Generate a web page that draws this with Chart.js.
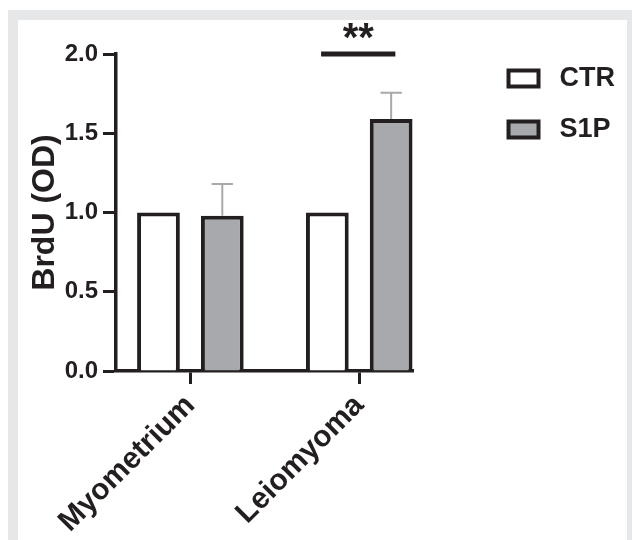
<!DOCTYPE html>
<html>
<head>
<meta charset="utf-8">
<script src="https://cdn.jsdelivr.net/npm/chart.js@4/dist/chart.umd.min.js"></script>
<style>
  html, body { margin: 0; padding: 0; background: #fff; overflow: hidden; }
  #frame { position: absolute; left: 8px; top: 10px; width: 609px; height: 600px; border: 10px solid #e6e7e8; }
  #wrap { position: absolute; left: 0; top: 0; width: 632px; height: 540px; }
</style>
</head>
<body>
<div id="frame"></div>
<div id="wrap"><canvas id="chart" width="632" height="540"></canvas></div>
<script>
// data
const categories = ['Myometrium', 'Leiomyoma'];
const seriesNames = ['CTR', 'S1P'];
const ctrValues = [1.0, 1.0];
const s1pValues = [0.98, 1.59];
const s1pErrors = [0.20, 0.165];
const yTicks = [0.0, 0.5, 1.0, 1.5, 2.0];
// significance bar between the two Leiomyoma bars
const sigSpan = [0.774, 1.214];
const sigLevel = 2.0;
const sigLabel = '**';

const dark = '#231f20';
const grey = '#a7a9ac';
const fontFamily = "'Liberation Sans', Arial, sans-serif";

// draws the upper half of the SEM bars on the S1P series
const errorBars = {
    id: 'errorBars',
    afterDatasetsDraw(chart) {
        const meta = chart.getDatasetMeta(1);
        const yScale = chart.scales.y;
        const ctx = chart.ctx;
        ctx.save();
        ctx.strokeStyle = grey;
        ctx.lineWidth = 2;
        meta.data.forEach((bar, i) => {
            const top = yScale.getPixelForValue(s1pValues[i] + s1pErrors[i]);
            const half = bar.width / 4;
            ctx.beginPath();
            ctx.moveTo(bar.x, bar.y);
            ctx.lineTo(bar.x, top);
            ctx.moveTo(bar.x - half, top);
            ctx.lineTo(bar.x + half, top);
            ctx.stroke();
        });
        ctx.restore();
    }
};

// the ** above the significance line
const sigStars = {
    id: 'sigStars',
    afterDatasetsDraw(chart) {
        const xs = chart.scales.x;
        const ys = chart.scales.y;
        const ctx = chart.ctx;
        const x = xs.getPixelForValue((sigSpan[0] + sigSpan[1]) / 2);
        const y = ys.getPixelForValue(sigLevel);
        ctx.save();
        ctx.fillStyle = dark;
        ctx.font = 'bold 40px ' + fontFamily;
        ctx.textAlign = 'center';
        ctx.textBaseline = 'alphabetic';
        ctx.fillText(sigLabel, x, y - 3);
        ctx.restore();
    }
};

const ctx = document.getElementById('chart').getContext('2d');
new Chart(ctx, {
    data: {
        datasets: [{
            type: 'bar',
            label: seriesNames[0],
            data: ctrValues.map((v, i) => ({x: i, y: v})),
            backgroundColor: '#ffffff',
            borderColor: dark,
            borderWidth: 4,
            categoryPercentage: 0.756,
            barPercentage: 0.67
        }, {
            type: 'bar',
            label: seriesNames[1],
            data: s1pValues.map((v, i) => ({x: i, y: v})),
            backgroundColor: grey,
            borderColor: dark,
            borderWidth: 4,
            categoryPercentage: 0.756,
            barPercentage: 0.67
        }, {
            type: 'line',
            label: 'sig',
            data: sigSpan.map(x => ({x: x, y: sigLevel})),
            borderColor: dark,
            borderWidth: 5,
            borderCapStyle: 'butt',
            pointRadius: 0,
            clip: false
        }]
    },
    options: {
        responsive: false,
        animation: false,
        events: [],
        layout: {
            padding: {left: 0, top: 41, right: 7, bottom: 0}
        },
        plugins: {
            title: {
                display: true,
                text: '',
                padding: 0,
                font: {size: 13, lineHeight: 1}
            },
            legend: {
                position: 'right',
                align: 'start',
                maxWidth: 300,
                labels: {
                    boxWidth: 30,
                    boxHeight: 16,
                    padding: 24,
                    color: dark,
                    font: {family: fontFamily, size: 27, weight: 'bold'},
                    filter: item => item.datasetIndex < 2,
                    generateLabels: chart => Chart.defaults.plugins.legend.labels.generateLabels(chart)
                        .map(item => Object.assign(item, {text: ' ' + item.text}))
                }
            },
            tooltip: {enabled: false}
        },
        scales: {
            x: {
                type: 'linear',
                min: -0.4405,
                max: 1.3214,
                offset: false,
                afterBuildTicks: s => { s.ticks = categories.map((c, i) => ({value: i})); },
                afterFit: s => { s.height = 169; },
                ticks: {
                    callback: v => categories[v],
                    autoSkip: false,
                    maxRotation: 45,
                    minRotation: 45,
                    padding: 4,
                    color: dark,
                    font: {family: fontFamily, size: 30, weight: 'bold'}
                },
                grid: {
                    offset: false,
                    drawOnChartArea: false,
                    tickLength: 13,
                    tickWidth: 3,
                    tickColor: dark
                },
                border: {color: dark, width: 3.5}
            },
            y: {
                min: 0,
                max: 2,
                afterBuildTicks: s => { s.ticks = yTicks.map(v => ({value: v})); },
                afterFit: s => { s.width = 116; },
                ticks: {
                    callback: v => v.toFixed(1),
                    padding: 5,
                    color: dark,
                    font: {family: fontFamily, size: 24, weight: 'bold'}
                },
                grid: {
                    drawOnChartArea: false,
                    tickLength: 13,
                    tickWidth: 3,
                    tickColor: dark
                },
                border: {color: dark, width: 3.5},
                title: {
                    display: true,
                    text: 'BrdU (OD)',
                    color: dark,
                    padding: {top: 26, bottom: 0},
                    font: {family: fontFamily, size: 32, weight: 'bold'}
                }
            },
            // empty spacer between plot and legend
            yr: {
                type: 'linear',
                position: 'right',
                afterFit: s => { s.width = 71; },
                ticks: {display: false},
                grid: {display: false},
                border: {display: false}
            }
        }
    },
    plugins: [errorBars, sigStars]
});
</script>
</body>
</html>
